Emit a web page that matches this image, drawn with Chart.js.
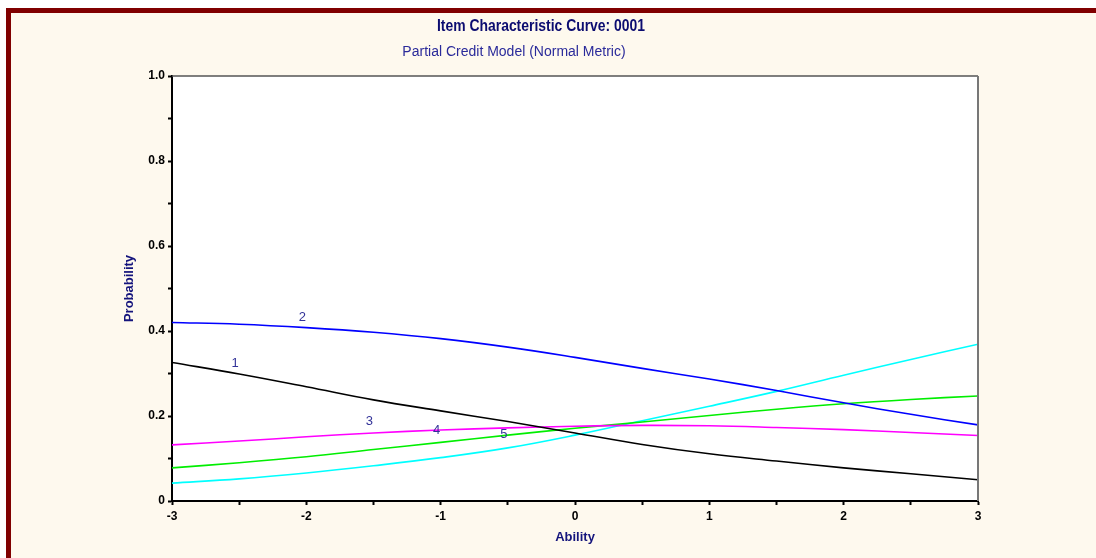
<!DOCTYPE html>
<html>
<head>
<meta charset="utf-8">
<script src="https://cdn.jsdelivr.net/npm/chart.js@4.4.1/dist/chart.umd.min.js"></script>
<style>
    html, body { margin: 0; padding: 0; background: #ffffff; width: 1096px; height: 558px; overflow: hidden; }
    #frame {
        position: absolute; left: 6px; top: 8px; width: 1200px; height: 700px;
        border-top: 5px solid #800000; border-left: 5px solid #800000;
        background: #FEF9EE;
    }
    #wrap { position: absolute; left: 0; top: 0; width: 1096px; height: 558px; }
</style>
</head>
<body>
<div id="frame"></div>
<div id="wrap"><canvas id="iccChart" width="1096" height="558"></canvas></div>
<script>
// Valores (probabilidade por categoria em cada nível de habilidade)
const ability = [-3, -2.5, -2, -1.5, -1, -0.5, 0, 0.5, 1, 1.5, 2, 2.5, 3];
const cat1 = [0.326, 0.299, 0.269, 0.238, 0.212, 0.187, 0.160, 0.133, 0.111, 0.094, 0.078, 0.064, 0.050];
const cat2 = [0.420, 0.416, 0.408, 0.397, 0.382, 0.362, 0.338, 0.312, 0.287, 0.260, 0.231, 0.204, 0.179];
const cat3 = [0.132, 0.141, 0.151, 0.160, 0.167, 0.172, 0.176, 0.178, 0.177, 0.173, 0.168, 0.161, 0.154];
const cat4 = [0.078, 0.090, 0.104, 0.121, 0.138, 0.155, 0.171, 0.186, 0.201, 0.216, 0.229, 0.239, 0.247];
const cat5 = [0.042, 0.052, 0.066, 0.083, 0.102, 0.125, 0.155, 0.189, 0.223, 0.258, 0.296, 0.333, 0.369];

// Rótulos das curvas (posição em unidades dos dados)
const curveNames = ['1', '2', '3', '4', '5'];
const labelX = [-2.53, -2.03, -1.53, -1.03, -0.53];
const labelY = [0.324, 0.431, 0.188, 0.165, 0.157];

const yTickLabels = ['0', '0.2', '0.4', '0.6', '0.8', '1.0'];
const xTickLabels = ['-3', '-2', '-1', '0', '1', '2', '3'];

const titleText = 'Item Characteristic Curve: 0001';
const subtitleText = 'Partial Credit Model (Normal Metric)';

const FONT = '"Liberation Sans", Arial, sans-serif';
const NAVY = '#14147c';

function toPoints(values) {
    return ability.map((a, i) => ({ x: a, y: values[i] }));
}

const iccPlugin = {
    id: 'icc',
    beforeDraw(chart) {
        const { ctx, chartArea: a } = chart;
        ctx.save();
        ctx.fillStyle = '#ffffff';
        ctx.fillRect(a.left, a.top, a.right - a.left, a.bottom - a.top);
        ctx.restore();
    },
    afterDatasetsDraw(chart) {
        const { ctx, chartArea: a, scales } = chart;
        ctx.save();
        // moldura superior e direita (cinza)
        ctx.strokeStyle = '#555555';
        ctx.lineWidth = 1.5;
        ctx.beginPath();
        ctx.moveTo(a.left, a.top);
        ctx.lineTo(a.right, a.top);
        ctx.stroke();
        ctx.strokeStyle = '#777777';
        ctx.lineWidth = 2;
        ctx.beginPath();
        ctx.moveTo(a.right, a.top);
        ctx.lineTo(a.right, a.bottom);
        ctx.stroke();

        // números das categorias
        ctx.font = '13px ' + FONT;
        ctx.fillStyle = '#333399';
        ctx.textAlign = 'center';
        ctx.textBaseline = 'middle';
        curveNames.forEach((n, i) => {
            ctx.fillText(n, scales.x.getPixelForValue(labelX[i]), scales.y.getPixelForValue(labelY[i]));
        });
        ctx.restore();
    },
    afterDraw(chart) {
        const ctx = chart.ctx;
        ctx.save();
        ctx.textAlign = 'center';
        ctx.textBaseline = 'alphabetic';
        ctx.fillStyle = '#0c0c70';
        ctx.font = 'bold 16px ' + FONT;
        ctx.translate(541, 31);
        ctx.scale(0.87, 1);
        ctx.fillText(titleText, 0, 0);
        ctx.restore();

        ctx.save();
        ctx.textAlign = 'center';
        ctx.textBaseline = 'alphabetic';
        ctx.fillStyle = '#2a2a9a';
        ctx.font = '14px ' + FONT;
        ctx.fillText(subtitleText, 514, 56);
        ctx.restore();
    }
};

const ctx = document.getElementById('iccChart');
new Chart(ctx, {
    type: 'line',
    data: {
        datasets: [
            { label: '1', data: toPoints(cat1), borderColor: '#000000' },
            { label: '2', data: toPoints(cat2), borderColor: '#0000ff' },
            { label: '3', data: toPoints(cat3), borderColor: '#ff00ff' },
            { label: '4', data: toPoints(cat4), borderColor: '#00ee00' },
            { label: '5', data: toPoints(cat5), borderColor: '#00ffff' }
        ]
    },
    options: {
        responsive: false,
        animation: false,
        layout: { padding: { top: 76, right: 118, left: 0, bottom: 0 } },
        elements: {
            point: { radius: 0, hoverRadius: 0 },
            line: { borderWidth: 1.6, tension: 0.4, fill: false }
        },
        plugins: {
            legend: { display: false },
            tooltip: { enabled: false },
            title: { display: false }
        },
        scales: {
            x: {
                type: 'linear',
                min: -3,
                max: 3,
                afterFit: (scale) => { scale.height = 57; },
                ticks: {
                    stepSize: 0.5,
                    autoSkip: false,
                    maxRotation: 0,
                    padding: 4,
                    color: '#000000',
                    font: { family: FONT, size: 12, weight: 'bold' },
                    callback: function (value) {
                        return Number.isInteger(value) ? xTickLabels[value + 3] : '';
                    }
                },
                grid: { drawOnChartArea: false, drawTicks: true, tickLength: 4, tickColor: '#000000', tickWidth: 2 },
                border: { display: true, color: '#000000', width: 2 },
                title: {
                    display: true,
                    text: 'Ability',
                    color: NAVY,
                    font: { family: FONT, size: 13, weight: 'bold' },
                    padding: { top: 0, bottom: 13 }
                }
            },
            y: {
                min: 0,
                max: 1,
                afterFit: (scale) => { scale.width = 172; },
                ticks: {
                    stepSize: 0.1,
                    autoSkip: false,
                    padding: 3,
                    color: '#000000',
                    font: { family: FONT, size: 12, weight: 'bold' },
                    callback: function (value) {
                        const k = Math.round(value * 10);
                        return k % 2 === 0 ? yTickLabels[k / 2] : '';
                    }
                },
                grid: { drawOnChartArea: false, drawTicks: true, tickLength: 4, tickColor: '#000000', tickWidth: 2 },
                border: { display: true, color: '#000000', width: 2 },
                title: {
                    display: true,
                    text: 'Probability',
                    color: NAVY,
                    font: { family: FONT, size: 13, weight: 'bold' },
                    padding: { top: 122, bottom: 0 }
                }
            }
        }
    },
    plugins: [iccPlugin]
});
</script>
</body>
</html>
